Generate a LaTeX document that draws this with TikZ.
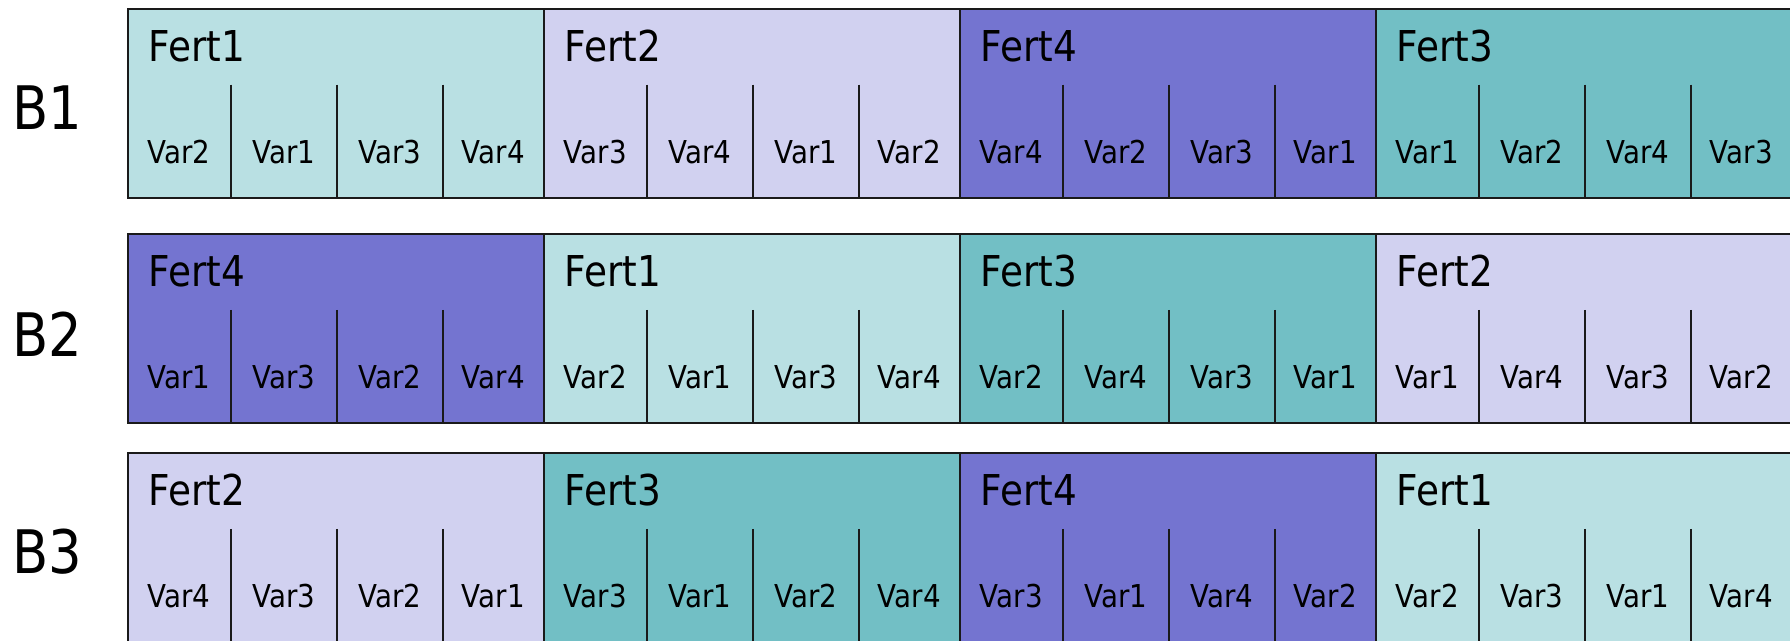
\documentclass[tikz,border=0pt]{standalone}
\usepackage{fontspec}
\setmainfont{DejaVu Sans}[FakeStretch=0.88]
\usetikzlibrary{calc}
\definecolor{fa}{HTML}{B9E0E3}
\definecolor{fb}{HTML}{D1D1F0}
\definecolor{fc}{HTML}{72BFC5}
\definecolor{fd}{HTML}{7474D0}
\definecolor{ln}{HTML}{1A1A1A}
\tikzset{
  grp/.style={draw=ln, line width=1.8pt, minimum width=416pt, minimum height=188.6pt,
    inner sep=0pt, outer sep=0pt, anchor=north west},
  ferttxt/.style={font=\fontsize{42.5}{45}\selectfont, inner sep=0pt, anchor=base west},
  vartxt/.style={font=\fontsize{31.5}{34}\selectfont, inner sep=0pt, anchor=base},
  blocktxt/.style={font=\fontsize{60}{62}\selectfont, inner sep=0pt, anchor=base west},
  divline/.style={draw=ln, line width=1.6pt},
}
% #1 name, #2 x, #3 y, #4 colour, #5 fert number, #6-#9 vars
\newcommand\fgroup[9]{%
  \node[grp, fill=#4] (#1) at (#2,#3) {};
  \node[ferttxt] (#1t) at ($(#1.north west)+(21,52)$) {Fert#5};
  \coordinate (#1d1) at ($(#1.north west)+(103,75.5)$);
  \coordinate (#1d2) at ($(#1.north west)+(209,75.5)$);
  \coordinate (#1d3) at ($(#1.north west)+(315,75.5)$);
  \draw[divline] (#1d1) -- (#1d1 |- #1.south);
  \draw[divline] (#1d2) -- (#1d2 |- #1.south);
  \draw[divline] (#1d3) -- (#1d3 |- #1.south);
  \node[vartxt] (#1v1) at ($(#1.north west)+(51.5,154.5)$) {#6};
  \node[vartxt] (#1v2) at ($(#1.north west)+(156,154.5)$) {#7};
  \node[vartxt] (#1v3) at ($(#1.north west)+(262,154.5)$) {#8};
  \node[vartxt] (#1v4) at ($(#1.north west)+(365.5,154.5)$) {#9};
}
\begin{document}
\begin{tikzpicture}[x=1pt, y=-1pt]
\useasboundingbox (0,0) rectangle (1790,640);
\clip (0,0) rectangle (1790,640);
\fill[white] (0,0) rectangle (1790,640);
% Block 1
\node[blocktxt] (b1) at (12,129.5) {B1};
\fgroup{ra}{127.7}{9}{fa}{1}{Var2}{Var1}{Var3}{Var4}
\fgroup{rb}{543.7}{9}{fb}{2}{Var3}{Var4}{Var1}{Var2}
\fgroup{rc}{959.7}{9}{fd}{4}{Var4}{Var2}{Var3}{Var1}
\fgroup{rd}{1375.7}{9}{fc}{3}{Var1}{Var2}{Var4}{Var3}
% Block 2
\node[blocktxt] (b2) at (12,356) {B2};
\fgroup{sa}{127.7}{234.3}{fd}{4}{Var1}{Var3}{Var2}{Var4}
\fgroup{sb}{543.7}{234.3}{fa}{1}{Var2}{Var1}{Var3}{Var4}
\fgroup{sc}{959.7}{234.3}{fc}{3}{Var2}{Var4}{Var3}{Var1}
\fgroup{sd}{1375.7}{234.3}{fb}{2}{Var1}{Var4}{Var3}{Var2}
% Block 3
\node[blocktxt] (b3) at (12,573) {B3};
\fgroup{ta}{127.7}{453.3}{fb}{2}{Var4}{Var3}{Var2}{Var1}
\fgroup{tb}{543.7}{453.3}{fc}{3}{Var3}{Var1}{Var2}{Var4}
\fgroup{tc}{959.7}{453.3}{fd}{4}{Var3}{Var1}{Var4}{Var2}
\fgroup{td}{1375.7}{453.3}{fa}{1}{Var2}{Var3}{Var1}{Var4}
\end{tikzpicture}
\end{document}
